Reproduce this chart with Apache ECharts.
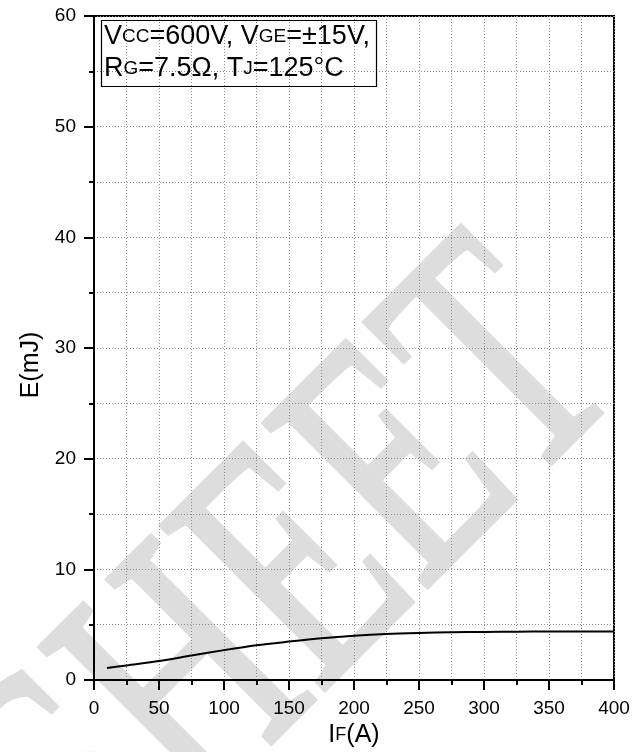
<!DOCTYPE html>
<html>
<head>
<meta charset="utf-8">
<script src="https://cdn.jsdelivr.net/npm/echarts@6/dist/echarts.min.js"></script>
<style>
html,body{margin:0;padding:0;background:#fff;}
#chart{width:641px;height:752px;}
</style>
</head>
<body>
<div id="chart"></div>
<script>
// Data
var currentIF = [10, 25, 50, 75, 100, 125, 150, 175, 200, 225, 250, 275, 300, 325, 350, 375, 400];
var energyE = [1.08, 1.32, 1.71, 2.21, 2.70, 3.14, 3.47, 3.77, 4.00, 4.16, 4.25, 4.31, 4.34, 4.37, 4.39, 4.39, 4.38];
var xTicks = [0, 50, 100, 150, 200, 250, 300, 350, 400];
var yTicks = [0, 10, 20, 30, 40, 50, 60];
var conditionLine1 = 'V{s|CC}=600V, V{s|GE}=\u00B115V,';
var conditionLine2 = 'R{s|G}=7.5\u03A9, T{s|J}=125\u00B0C';
var watermarkText = 'SHEET';

var FONT = '"Liberation Sans", Arial, sans-serif';
var chart = echarts.init(document.getElementById('chart'), null, {renderer: 'canvas'});

var pts = currentIF.map(function (x, i) { return [x, energyE[i]]; });

var gridLine = {show: true, lineStyle: {color: '#8c8c8c', width: 1, type: [1, 2]}};

var option = {
  backgroundColor: '#ffffff',
  animation: false,
  grid: {left: 94, right: 27, top: 16, bottom: 72, containLabel: false, outerBoundsMode: 'none',
         show: true, borderColor: '#000', borderWidth: 2, backgroundColor: 'transparent'},
  title: {
    left: 101, top: 20,
    text: conditionLine1 + '\n' + conditionLine2,
    borderColor: '#000', borderWidth: 1.2,
    padding: [1, 7, 2, 3],
    textStyle: {
      fontFamily: FONT, fontSize: 27, fontWeight: 'normal', color: '#000', lineHeight: 32,
      rich: {s: {fontFamily: FONT, fontSize: 19, color: '#000', lineHeight: 32}}
    }
  },
  graphic: [{
    type: 'text',
    x: 562, y: 321,
    rotation: Math.PI / 4,
    scaleX: 0.675,
    z: -10,
    silent: true,
    style: {
      text: watermarkText,
      font: '352px "Liberation Serif", "Times New Roman", serif',
      fill: '#dddddd',
      stroke: '#dddddd',
      lineWidth: 6,
      lineJoin: 'round',
      textAlign: 'right', textVerticalAlign: 'middle',
      align: 'right', verticalAlign: 'middle'
    }
  }],
  xAxis: {
    type: 'value', min: 0, max: 400, interval: 50,
    name: 'I{s|F}(A)', nameLocation: 'middle', nameGap: 42,
    nameTextStyle: {fontFamily: FONT, fontSize: 25, color: '#000',
      rich: {s: {fontFamily: FONT, fontSize: 18, color: '#000'}}},
    axisLine: {show: true, onZero: false, lineStyle: {color: '#000', width: 2}},
    axisTick: {show: true, inside: false, length: 10, lineStyle: {color: '#000', width: 2}},
    minorTick: {show: true, splitNumber: 2, length: 5, lineStyle: {color: '#000', width: 2}},
    axisLabel: {fontFamily: FONT, fontSize: 19, color: '#000', margin: 19,
      formatter: function (v) { return xTicks.indexOf(v) >= 0 ? String(v) : ''; }},
    splitLine: gridLine,
    minorSplitLine: gridLine
  },
  yAxis: {
    type: 'value', min: 0, max: 60, interval: 10,
    name: 'E(mJ)', nameLocation: 'middle', nameGap: 50,
    nameTextStyle: {fontFamily: FONT, fontSize: 25, color: '#000', padding: [0, 34, 0, 0]},
    axisLine: {show: true, onZero: false, lineStyle: {color: '#000', width: 2}},
    axisTick: {show: true, inside: false, length: 10, lineStyle: {color: '#000', width: 2}},
    minorTick: {show: true, splitNumber: 2, length: 5, lineStyle: {color: '#000', width: 2}},
    axisLabel: {fontFamily: FONT, fontSize: 19, color: '#000', margin: 18,
      formatter: function (v) { return yTicks.indexOf(v) >= 0 ? String(v) : ''; }},
    splitLine: gridLine,
    minorSplitLine: gridLine
  },
  series: [{
    type: 'line',
    data: pts,
    smooth: 0.3,
    showSymbol: false,
    symbol: 'none',
    lineStyle: {color: '#000', width: 2},
    z: 5
  }]
};
chart.setOption(option);
</script>
</body>
</html>
